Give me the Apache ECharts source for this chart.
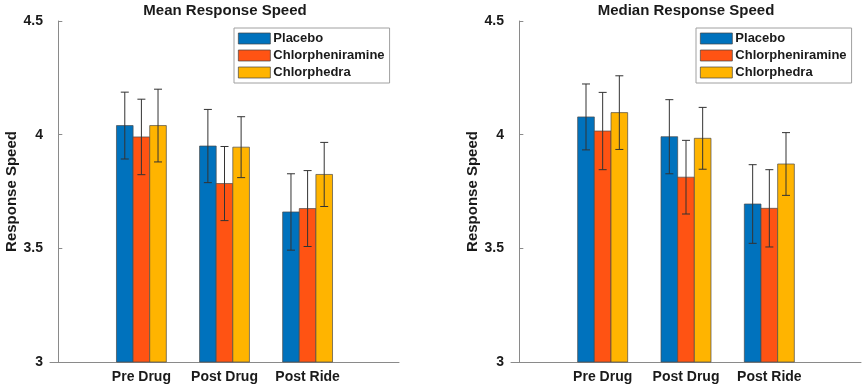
<!DOCTYPE html>
<html>
<head>
<meta charset="utf-8">
<script src="https://cdn.jsdelivr.net/npm/echarts@6/dist/echarts.min.js"></script>
<style>
html, body { margin: 0; padding: 0; background: #fff; }
#main { width: 865px; height: 388px; }
</style>
</head>
<body>
<div id="main"></div>
<script>
// categories and series
var categories = ['Pre Drug', 'Post Drug', 'Post Ride'];
var seriesNames = ['Placebo', 'Chlorpheniramine', 'Chlorphedra'];
var colors = ['#0072BD', '#FF5313', '#FFB400'];

// mean response speed (one array per group) and error half-widths
var meanPlacebo = [4.04, 3.95, 3.66];
var meanChlorpheniramine = [3.99, 3.785, 3.675];
var meanChlorphedra = [4.04, 3.945, 3.825];
var meanErrPlacebo = [0.147, 0.161, 0.168];
var meanErrChlorpheniramine = [0.166, 0.163, 0.167];
var meanErrChlorphedra = [0.16, 0.134, 0.141];

// median response speed
var medPlacebo = [4.078, 3.991, 3.695];
var medChlorpheniramine = [4.016, 3.813, 3.676];
var medChlorphedra = [4.097, 3.984, 3.871];
var medErrPlacebo = [0.145, 0.163, 0.173];
var medErrChlorpheniramine = [0.17, 0.162, 0.17];
var medErrChlorphedra = [0.162, 0.136, 0.138];

var yTicks = [3, 3.5, 4, 4.5];

var FONT = '"Liberation Sans", Arial, Helvetica, sans-serif';
var AXIS_COLOR = '#8a8a8a';
var TEXT_COLOR = '#1a1a1a';
var barW = 0.2;
var offsets = [-0.2, 0, 0.2];

function makeSeries(idx, vals, errs, k) {
    var data = vals.map(function(v, i) { return [i + 1, v, errs[i]]; });
    return {
        name: seriesNames[k],
        type: 'custom',
        xAxisIndex: idx,
        yAxisIndex: idx,
        itemStyle: { color: colors[k] },
        encode: { x: 0, y: 1 },
        data: data,
        renderItem: function(params, api) {
            var x = api.value(0) + offsets[k];
            var v = api.value(1);
            var e = api.value(2);
            var tl = api.coord([x - barW / 2, v]);
            var br = api.coord([x + barW / 2, yTicks[0]]);
            var hi = api.coord([x, v + e]);
            var lo = api.coord([x, v - e]);
            var cap = 4;
            var eb = { stroke: '#333', lineWidth: 1 };
            return {
                type: 'group',
                children: [
                    { type: 'rect', shape: { x: tl[0], y: tl[1], width: br[0] - tl[0], height: br[1] - tl[1] },
                      style: { fill: colors[k], stroke: '#4a4a4a', lineWidth: 0.7 } },
                    { type: 'line', shape: { x1: hi[0], y1: hi[1], x2: lo[0], y2: lo[1] }, style: eb },
                    { type: 'line', shape: { x1: hi[0] - cap, y1: hi[1], x2: hi[0] + cap, y2: hi[1] }, style: eb },
                    { type: 'line', shape: { x1: lo[0] - cap, y1: lo[1], x2: lo[0] + cap, y2: lo[1] }, style: eb }
                ]
            };
        }
    };
}

function xAxisFor(idx) {
    return {
        type: 'value', gridIndex: idx, min: -0.1, max: 4.1,
        axisLine: { show: true, lineStyle: { color: AXIS_COLOR, width: 1 } },
        axisTick: { show: false },
        splitLine: { show: false },
        axisLabel: {
            customValues: [1, 2, 3],
            formatter: function(v) { return categories[Math.round(v) - 1]; },
            fontFamily: FONT, fontWeight: 'bold', fontSize: 14, color: TEXT_COLOR, margin: 8
        }
    };
}

function yAxisFor(idx) {
    return {
        type: 'value', gridIndex: idx, min: 3, max: 4.5, interval: 0.5,
        name: 'Response Speed', nameLocation: 'middle', nameGap: 29, nameRotate: 90,
        nameTextStyle: { fontFamily: FONT, fontWeight: 'bold', fontSize: 15, color: TEXT_COLOR },
        axisLine: { show: true, lineStyle: { color: AXIS_COLOR, width: 1 } },
        axisTick: { show: true, inside: true, length: 4, lineStyle: { color: AXIS_COLOR } },
        splitLine: { show: false },
        axisLabel: { fontFamily: FONT, fontWeight: 'bold', fontSize: 14, color: TEXT_COLOR, margin: 7 }
    };
}

function legendFor(left) {
    return {
        orient: 'vertical', left: left, top: 28,
        data: seriesNames, selectedMode: false,
        icon: 'rect', itemWidth: 32, itemHeight: 11, itemGap: 4,
        padding: [4, 5, 4, 4],
        borderColor: '#a0a0a0', borderWidth: 1, backgroundColor: '#fff',
        itemStyle: { borderColor: '#444', borderWidth: 0.7 },
        textStyle: { fontFamily: FONT, fontWeight: 'bold', fontSize: 13, color: TEXT_COLOR, padding: [0, 0, 0, -2] }
    };
}

var chart = echarts.init(document.getElementById('main'), null, { renderer: 'canvas' });
var option = {
    animation: false,
    backgroundColor: '#fff',
    title: [
        { text: 'Mean Response Speed', left: 225, textAlign: 'center', top: 3, padding: 0,
          textStyle: { fontFamily: FONT, fontWeight: 'bold', fontSize: 15, color: TEXT_COLOR } },
        { text: 'Median Response Speed', left: 686, textAlign: 'center', top: 3, padding: 0,
          textStyle: { fontFamily: FONT, fontWeight: 'bold', fontSize: 15, color: TEXT_COLOR } }
    ],
    legend: [legendFor(234), legendFor(696)],
    grid: [
        { left: 50, top: 21, width: 349, height: 341 },
        { left: 511, top: 21, width: 350, height: 341 }
    ],
    xAxis: [xAxisFor(0), xAxisFor(1)],
    yAxis: [yAxisFor(0), yAxisFor(1)],
    series: [
        makeSeries(0, meanPlacebo, meanErrPlacebo, 0),
        makeSeries(0, meanChlorpheniramine, meanErrChlorpheniramine, 1),
        makeSeries(0, meanChlorphedra, meanErrChlorphedra, 2),
        makeSeries(1, medPlacebo, medErrPlacebo, 0),
        makeSeries(1, medChlorpheniramine, medErrChlorpheniramine, 1),
        makeSeries(1, medChlorphedra, medErrChlorphedra, 2)
    ]
};
chart.setOption(option);
</script>
</body>
</html>
